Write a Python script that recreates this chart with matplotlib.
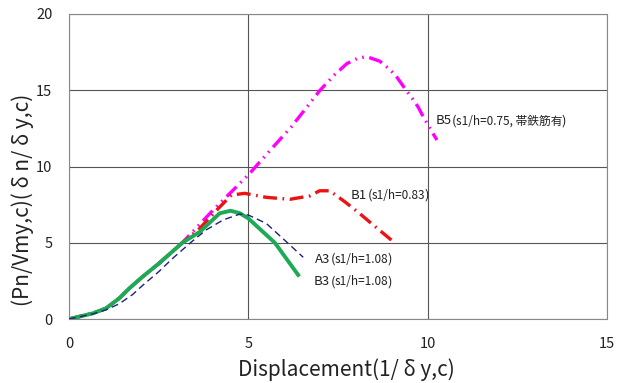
import matplotlib
matplotlib.use("Agg")
import matplotlib.pyplot as plt

plt.rcParams['font.family'] = ['Noto Sans CJK JP', 'DejaVu Sans']
plt.rcParams['lines.scale_dashes'] = False

# Load-displacement envelopes (normalised)
b5_x = [0, 0.66, 1.03, 1.4, 1.68, 2.05, 2.51, 3.16, 3.6, 4.02, 4.58, 5.04, 5.32, 5.7, 6.2, 6.6, 7.0,
        7.4, 7.75, 8.05, 8.3, 8.67, 8.9, 9.1, 9.4, 9.57, 9.73, 9.87, 10.1, 10.26]
b5_y = [0, 0.37, 0.7, 1.36, 2.01, 2.77, 3.65, 5.0, 6.1, 7.15, 8.46, 9.55, 10.3, 11.3, 12.6, 13.8, 15.0,
        16.0, 16.75, 17.1, 17.2, 16.9, 16.45, 16.0, 15.0, 14.47, 13.92, 13.3, 12.35, 11.74]

b1_x = [0, 0.66, 1.03, 1.4, 1.68, 2.05, 2.51, 3.16, 3.65, 4.1, 4.53, 4.9, 5.5, 6.16, 6.71, 6.99,
        7.27, 7.69, 8.1, 8.43, 9.08]
b1_y = [0, 0.37, 0.7, 1.36, 2.01, 2.77, 3.65, 5.0, 5.95, 7.1, 8.13, 8.24, 7.98, 7.85, 8.07, 8.41,
        8.41, 7.69, 6.93, 6.27, 5.0]

a3_x = [0, 0.66, 1.03, 1.4, 1.77, 2.05, 2.5, 2.9, 3.46, 3.83, 4.3, 4.76, 5.0, 5.5, 6.06, 6.53]
a3_y = [0, 0.33, 0.6, 1.0, 1.6, 2.2, 3.1, 4.0, 5.15, 5.85, 6.5, 6.88, 6.82, 6.27, 5.07, 4.05]

b3_x = [0, 0.66, 1.03, 1.4, 1.68, 2.05, 2.51, 3.16, 3.65, 4.2, 4.5, 4.75, 5.0, 5.3, 5.74, 6.39]
b3_y = [0, 0.37, 0.7, 1.36, 2.01, 2.77, 3.65, 5.0, 5.72, 6.93, 7.1, 6.95, 6.6, 5.95, 5.0, 2.89]

x_ticks = [0, 5, 10, 15]
y_ticks = [0, 5, 10, 15, 20]

fig = plt.figure(figsize=(6.19, 3.83), dpi=100)
ax = fig.add_axes([0.1115, 0.167, 0.869, 0.7965])

ax.plot(b5_x, b5_y, color='#FF00FF', lw=2.4, dashes=[10, 4, 1.2, 4, 1.2, 4], zorder=3)
ax.plot(b1_x, b1_y, color='#EE1111', lw=2.4, dashes=[10, 4, 1.2, 4], zorder=4)
ax.plot(a3_x, a3_y, color='#1F1F7A', lw=1.0, dashes=[5, 3], zorder=5)
ax.plot(b3_x, b3_y, color='#1DAA55', lw=2.8, zorder=4)

ax.set_xlim(0, 15)
ax.set_ylim(0, 20)
ax.set_xticks(x_ticks)
ax.set_yticks(y_ticks)
ax.grid(True, color='#555555', lw=0.8)
ax.set_axisbelow(True)
for s in ax.spines.values():
    s.set_color('#888888')
    s.set_linewidth(0.8)
ax.tick_params(length=0, labelsize=10.5, colors='#222222')
ax.tick_params(axis='y', pad=12)
ax.tick_params(axis='x', pad=13)

ax.set_xlabel('Displacement(1/ δ y,c)', fontsize=15, color='#222222', va='center')
ax.set_ylabel('(Pn/Vmy,c)( δ n/ δ y,c)', fontsize=15, color='#222222', va='center')
ax.xaxis.set_label_coords(0.5155, -0.167)
ax.yaxis.set_label_coords(-0.087, 0.39)

labels = [
    ('B5', 's1/h=0.75, 帯鉄筋有', 10.22, 13.0),
    ('B1', 's1/h=0.83', 7.86, 8.13),
    ('A3', 's1/h=1.08', 6.87, 3.91),
    ('B3', 's1/h=1.08', 6.83, 2.45),
]
for name, note, lx, ly in labels:
    t = ax.text(lx, ly, name, fontsize=9.5, va='center', ha='left', color='#222222')
    # bracketed note: full-size parentheses around smaller inner text
    prev = t
    for piece, size, gap in (('(', 9.5, 0.3), (note, 8.5, -0.5), (')', 9.5, -0.5)):
        prev = ax.annotate(piece, xy=(1, 0.5), xycoords=prev, xytext=(gap, 0),
                           textcoords='offset points', va='center', ha='left',
                           fontsize=size, color='#222222')

fig.savefig('out.png', dpi=100)
